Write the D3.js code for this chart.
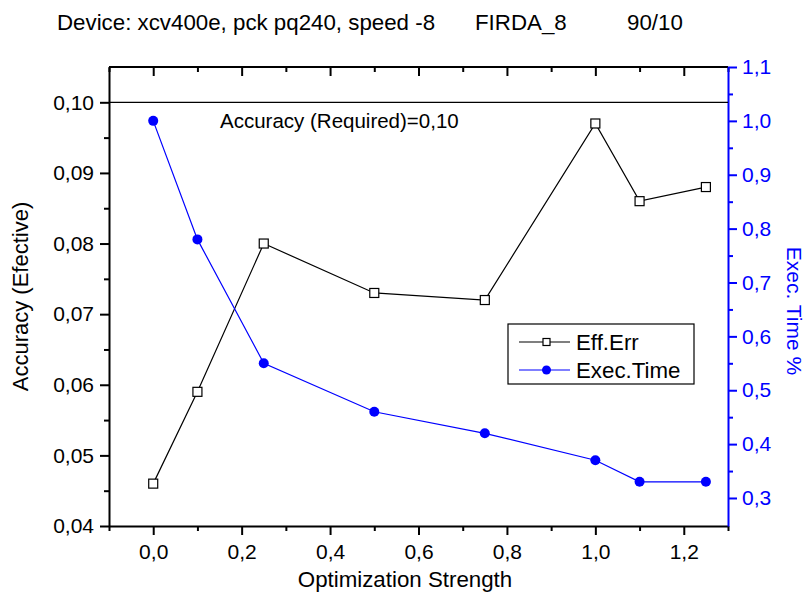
<!DOCTYPE html>
<html>
<head>
<meta charset="utf-8">
<script src="https://cdn.jsdelivr.net/npm/d3@7"></script>
<style>
  html, body { margin: 0; padding: 0; background: #fff; }
  svg { display: block; font-family: "Liberation Sans", Arial, sans-serif; }
</style>
</head>
<body>
<svg id="chart" width="807" height="593"></svg>
<script>
// Optimization strength (x) for both series
const strength = [0.0, 0.1, 0.25, 0.5, 0.75, 1.0, 1.1, 1.25];
// Effective accuracy error (left axis)
const effErr = [0.046, 0.059, 0.080, 0.073, 0.072, 0.097, 0.086, 0.088];
// Relative execution time (right axis)
const execTime = [1.0, 0.78, 0.55, 0.46, 0.42, 0.37, 0.33, 0.33];
// Required accuracy threshold
const requiredAcc = 0.10;

const xTicks = [0.0, 0.2, 0.4, 0.6, 0.8, 1.0, 1.2];
const xMinor = [-0.1, 0.1, 0.3, 0.5, 0.7, 0.9, 1.1, 1.3];
const yLeftTicks = [0.04, 0.05, 0.06, 0.07, 0.08, 0.09, 0.10];
const yLeftMinor = [0.045, 0.055, 0.065, 0.075, 0.085, 0.095];
const yRightTicks = [0.3, 0.4, 0.5, 0.6, 0.7, 0.8, 0.9, 1.0, 1.1];
const yRightMinor = [0.35, 0.45, 0.55, 0.65, 0.75, 0.85, 0.95, 1.05];

const titleText = ["Device: xcv400e, pck pq240, speed -8", "FIRDA_8", "90/10"];

const locale = d3.formatLocale({ decimal: ",", thousands: ".", grouping: [3], currency: ["", ""] });
const f1 = locale.format(".1f"), f2 = locale.format(".2f");

const svg = d3.select("#chart");
const m = { left: 109, right: 728, top: 67, bottom: 526 };
const blue = "#0000ff";
const tickFont = 21;

const x = d3.scaleLinear().domain([-0.1, 1.3]).range([m.left, m.right]);
const yL = d3.scaleLinear().domain([0.04, 0.105]).range([m.bottom, m.top]);
const yR = d3.scaleLinear().domain([0.248, 1.1]).range([m.bottom, m.top]);

// Title
const tx = [57, 475, 627];
titleText.forEach((t, i) => {
  svg.append("text").attr("x", tx[i]).attr("y", 30).attr("font-size", 22.3).attr("fill", "#000").text(t);
});

// Frame top border
svg.append("line").attr("x1", m.left).attr("x2", m.right).attr("y1", m.top).attr("y2", m.top)
  .attr("stroke", "#000").attr("stroke-width", 2);

function styleAxis(g, color) {
  g.select(".domain").attr("stroke", color).attr("stroke-width", 2);
  g.selectAll(".tick line").attr("stroke", color).attr("stroke-width", 2);
  g.selectAll(".tick text").attr("fill", color).attr("font-size", tickFont)
    .attr("font-family", "Liberation Sans, Arial, sans-serif");
}
function minorTicks(g, color) {
  g.select(".domain").remove();
  g.selectAll("line").attr("stroke", color).attr("stroke-width", 2);
}

// Bottom axis
const gx = svg.append("g").attr("transform", `translate(0,${m.bottom})`)
  .call(d3.axisBottom(x).tickValues(xTicks).tickFormat(f1).tickSize(9).tickPadding(9).tickSizeOuter(0));
styleAxis(gx, "#000");
svg.append("g").attr("transform", `translate(0,${m.bottom})`)
  .call(d3.axisBottom(x).tickValues(xMinor).tickFormat("").tickSize(5).tickSizeOuter(0))
  .call(g => minorTicks(g, "#000"));

// Top ticks (inward)
svg.append("g").attr("transform", `translate(0,${m.top})`)
  .call(d3.axisBottom(x).tickValues(xTicks).tickFormat("").tickSize(9).tickSizeOuter(0))
  .call(g => minorTicks(g, "#000"));
svg.append("g").attr("transform", `translate(0,${m.top})`)
  .call(d3.axisBottom(x).tickValues(xMinor).tickFormat("").tickSize(5).tickSizeOuter(0))
  .call(g => minorTicks(g, "#000"));

// Left axis
const gl = svg.append("g").attr("transform", `translate(${m.left},0)`)
  .call(d3.axisLeft(yL).tickValues(yLeftTicks).tickFormat(f2).tickSize(9).tickPadding(6).tickSizeOuter(0));
styleAxis(gl, "#000");
svg.append("g").attr("transform", `translate(${m.left},0)`)
  .call(d3.axisLeft(yL).tickValues(yLeftMinor).tickFormat("").tickSize(5).tickSizeOuter(0))
  .call(g => minorTicks(g, "#000"));

// Right axis
const gr = svg.append("g").attr("transform", `translate(${m.right},0)`)
  .call(d3.axisRight(yR).tickValues(yRightTicks).tickFormat(f1).tickSize(9).tickPadding(5).tickSizeOuter(0));
styleAxis(gr, blue);
svg.append("g").attr("transform", `translate(${m.right},0)`)
  .call(d3.axisRight(yR).tickValues(yRightMinor).tickFormat("").tickSize(5).tickSizeOuter(0))
  .call(g => minorTicks(g, blue));

// Axis titles
svg.append("text").attr("x", 405).attr("y", 587).attr("text-anchor", "middle")
  .attr("font-size", 22.3).text("Optimization Strength");
svg.append("text").attr("transform", `translate(28,${(m.top + m.bottom) / 2}) rotate(-90)`)
  .attr("text-anchor", "middle").attr("font-size", 22).text("Accuracy (Efective)");
svg.append("text").attr("transform", `translate(787,311) rotate(90)`)
  .attr("text-anchor", "middle").attr("font-size", 21).attr("fill", blue).text("Exec. Time %");

// Required accuracy line
svg.append("line").attr("x1", m.left).attr("x2", m.right)
  .attr("y1", yL(requiredAcc)).attr("y2", yL(requiredAcc)).attr("stroke", "#000").attr("stroke-width", 1.2);
svg.append("text").attr("x", 220).attr("y", yL(requiredAcc) + 26).attr("font-size", 20.5)
  .text("Accuracy (Required)=" + f2(requiredAcc));

// Eff.Err series
const errPts = strength.map((s, i) => [s, effErr[i]]);
svg.append("path").datum(errPts)
  .attr("d", d3.line().x(d => x(d[0])).y(d => yL(d[1])))
  .attr("fill", "none").attr("stroke", "#000").attr("stroke-width", 1.2);
svg.selectAll(".sq").data(errPts).join("rect")
  .attr("x", d => x(d[0]) - 4.5).attr("y", d => yL(d[1]) - 4.5).attr("width", 9).attr("height", 9)
  .attr("fill", "#fff").attr("stroke", "#000").attr("stroke-width", 1.2);

// Exec.Time series
const timePts = strength.map((s, i) => [s, execTime[i]]);
svg.append("path").datum(timePts)
  .attr("d", d3.line().x(d => x(d[0])).y(d => yR(d[1])))
  .attr("fill", "none").attr("stroke", blue).attr("stroke-width", 1.2);
svg.selectAll(".dot").data(timePts).join("circle")
  .attr("cx", d => x(d[0])).attr("cy", d => yR(d[1])).attr("r", 5).attr("fill", blue);

// Legend
const lg = svg.append("g");
lg.append("rect").attr("x", 508).attr("y", 324).attr("width", 186).attr("height", 60)
  .attr("fill", "#fff").attr("stroke", "#000").attr("stroke-width", 1.2);
const legendItems = [
  { name: "Eff.Err", color: "#000", square: true, y: 342 },
  { name: "Exec.Time", color: blue, square: false, y: 370 }
];
legendItems.forEach(it => {
  lg.append("line").attr("x1", 519).attr("x2", 570).attr("y1", it.y).attr("y2", it.y)
    .attr("stroke", it.color).attr("stroke-width", 1.2);
  if (it.square) {
    lg.append("rect").attr("x", 543).attr("y", it.y - 3.5).attr("width", 7).attr("height", 7)
      .attr("fill", "#fff").attr("stroke", "#000").attr("stroke-width", 1.2);
  } else {
    lg.append("circle").attr("cx", 546.5).attr("cy", it.y).attr("r", 4.5).attr("fill", blue);
  }
  lg.append("text").attr("x", 576).attr("y", it.y + 8).attr("font-size", 22.3).text(it.name);
});
</script>
</body>
</html>
